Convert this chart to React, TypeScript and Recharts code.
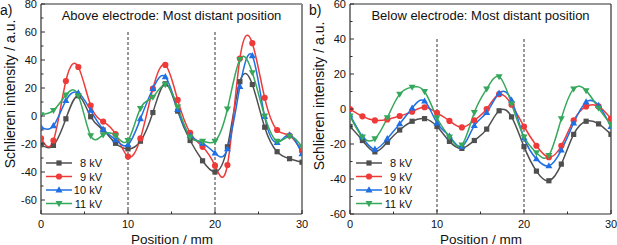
import React from "react";
import { LineChart, Line, XAxis, YAxis, ReferenceLine } from "recharts";

// Positions along the electrode (mm)
const positions = [0, 1.43, 2.86, 4.29, 5.71, 7.14, 8.57, 10, 11.43, 12.86, 14.29, 15.71, 17.14, 18.57, 20, 21.43, 22.86, 24.29, 25.71, 27.14, 28.57, 30];

// Panel a) Above electrode
const above8 = [-20.5, -21, -2, 14.5, -0.5, -10, -19.5, -23.5, -18, 2.5, 23, 3.5, -17.5, -32, -40, -22, 24.5, 22.5, -8, -25.5, -30.5, -33];
const above9 = [-16, -17.5, 25, 35, 7.5, -4, -13, -29, -16, 19.5, 36.5, 11.5, -12, -22, -35.5, -35, 41, 52, 13, -10, -14, -25];
const above10 = [-8, -7, 11, 16.5, 4, -9.5, -17, -20.5, -2, 19.5, 28, 4.5, -14, -19.5, -26.5, -23.5, 21, 43, -0.5, -19, -13.5, -27];
const above11 = [1, 4, 15, 14.5, -14, -13.5, -14, -17.5, 5.5, 13.5, 22.5, 6.5, -15, -18, -18, 5, 40.5, 31, 0, -18, -14.5, -22];

// Panel b) Below electrode
const below8 = [-10, -18, -24.5, -19, -12, -7, -5.5, -10, -18.5, -22.5, -18, -11.5, -1, -4.5, -21.5, -35.5, -41, -31.5, -14.5, -7, -8.5, -14.5];
const below9 = [0, -4.2, -6.5, -6, -4, -1.5, 1, -2.2, -6.8, -10.5, -6.5, 0, 8.5, 2.5, -10, -21, -27.5, -21, -6.5, 1.5, 1.5, -5.5];
const below10 = [-3.5, -16, -23, -17, -8.5, 0.5, 4.5, -8, -15.5, -21.5, -9.5, -2, 9, 5, -16.5, -28.5, -32.5, -23.5, -8, 4, 2, -10];
const below11 = [-4, -16, -17, -5, 8.5, 12.5, 10, -5, -16, -20.5, -2, 11.5, 18.5, 3, -16, -25, -26.5, -5.5, 11.5, 10.5, 0.5, -9];

const seriesNames = ["8 kV", "9 kV", "10 kV", "11 kV"];
const seriesColors = ["#4f4f4f", "#ef3a3a", "#1f6fe5", "#35a85c"];
const seriesMarkers = ["square", "circle", "up", "down"];

const xTicks = [0, 5, 10, 15, 20, 25, 30];
const xTickLabels = [0, 10, 20, 30];
const yTicksA = [-60, -50, -40, -30, -20, -10, 0, 10, 20, 30, 40, 50, 60, 70, 80];
const yTicksB = [-60, -50, -40, -30, -20, -10, 0, 10, 20, 30, 40, 50, 60];
const yTickLabels = [-60, -40, -20, 0, 20, 40, 60, 80];
const electrodeEdges = [10, 20];

const FONT = "'Liberation Sans', Arial, sans-serif";
const AXIS = "#2f2f2f";

const rowsA = positions.map((x, i) => ({ x, s0: above8[i], s1: above9[i], s2: above10[i], s3: above11[i] }));
const rowsB = positions.map((x, i) => ({ x, s0: below8[i], s1: below9[i], s2: below10[i], s3: below11[i] }));

function Marker({ cx, cy, kind, color }: { cx: number; cy: number; kind: string; color: string }) {
  if (cx == null || cy == null || isNaN(cx) || isNaN(cy)) return null;
  if (kind === "square") return <rect x={cx - 2.6} y={cy - 2.6} width={5.2} height={5.2} fill={color} />;
  if (kind === "circle") return <circle cx={cx} cy={cy} r={3.1} fill={color} />;
  if (kind === "up")
    return <path d={`M${cx},${cy - 3.7} L${cx + 3.5},${cy + 2.4} L${cx - 3.5},${cy + 2.4} Z`} fill={color} />;
  return <path d={`M${cx},${cy + 3.7} L${cx + 3.5},${cy - 2.4} L${cx - 3.5},${cy - 2.4} Z`} fill={color} />;
}

const YTick = (props: any) => {
  const { x, y, payload } = props;
  const v = payload.value;
  const major = yTickLabels.includes(v);
  return (
    <g>
      <line x1={x} x2={x + (major ? 4 : 2.5)} y1={y} y2={y} stroke={AXIS} strokeWidth={1} />
      {major && (
        <text x={x - 4} y={y} dy="0.36em" textAnchor="end" fontSize={11} fontFamily={FONT} fill="#111">
          {v}
        </text>
      )}
    </g>
  );
};

const XTick = (props: any) => {
  const { x, y, payload } = props;
  const v = payload.value;
  const major = xTickLabels.includes(v);
  return (
    <g>
      <line x1={x} x2={x} y1={y} y2={y - (major ? 4 : 2.5)} stroke={AXIS} strokeWidth={1} />
      {major && (
        <text x={x} y={y + 13.5} textAnchor="middle" fontSize={11} fontFamily={FONT} fill="#111">
          {v}
        </text>
      )}
    </g>
  );
};

function Panel({ rows, domain, ticks, yWidth, width, rightMargin, dashTop, rightBorder }: any) {
  return (
    <LineChart width={width} height={245} data={rows} margin={{ top: 4, right: rightMargin, bottom: 0, left: 0 }} style={{ overflow: "visible" }}>
      <XAxis
        dataKey="x"
        type="number"
        domain={[0, 30]}
        ticks={xTicks}
        interval={0}
        height={31}
        tickSize={0}
        tickMargin={0}
        tickLine={false}
        axisLine={{ stroke: AXIS, strokeWidth: 1.2 }}
        tick={<XTick />}
        allowDataOverflow
      />
      <YAxis
        type="number"
        domain={domain}
        ticks={ticks}
        interval={0}
        width={yWidth}
        tickSize={0}
        tickMargin={0}
        tickLine={false}
        axisLine={{ stroke: AXIS, strokeWidth: 1.2 }}
        tick={<YTick />}
        allowDataOverflow
      />
      <ReferenceLine y={domain[1]} stroke={AXIS} strokeWidth={1.2} />
      <ReferenceLine x={30} stroke={rightBorder.color} strokeWidth={rightBorder.width} />
      {electrodeEdges.map((e) => (
        <ReferenceLine
          key={e}
          segment={[{ x: e, y: dashTop }, { x: e, y: domain[0] }]}
          stroke="#333"
          strokeWidth={1}
          strokeDasharray="3 2"
        />
      ))}
      {seriesNames.map((name, k) => (
        <Line
          key={name}
          dataKey={`s${k}`}
          name={name}
          type="natural"
          stroke={seriesColors[k]}
          strokeWidth={1.5}
          isAnimationActive={false}
          dot={(p: any) => (
            <Marker key={`${name}-${p.index}`} cx={p.cx} cy={p.cy} kind={seriesMarkers[k]} color={seriesColors[k]} />
          )}
          activeDot={false}
        />
      ))}
    </LineChart>
  );
}

function LegendBlock({ x0, textEnd, rowsY }: { x0: number; textEnd: number; rowsY: number[] }) {
  return (
    <g>
      {seriesNames.map((name, k) => (
        <g key={name}>
          <line x1={x0} x2={x0 + 26} y1={rowsY[k]} y2={rowsY[k]} stroke={seriesColors[k]} strokeWidth={1.5} />
          <Marker cx={x0 + 13} cy={rowsY[k]} kind={seriesMarkers[k]} color={seriesColors[k]} />
          <text x={textEnd} y={rowsY[k] + 4} textAnchor="end" fontSize={11} fontFamily={FONT} fill="#111">
            {name}
          </text>
        </g>
      ))}
    </g>
  );
}

export default function App() {
  const legendRows = [163, 176.5, 190, 203.5];
  return (
    <div style={{ position: "absolute", left: 0, top: 0, width: 617, height: 245, background: "#fff", overflow: "hidden" }}>
      <div style={{ position: "absolute", left: 0, top: 0 }}>
        <Panel rows={rowsA} domain={[-70, 80]} ticks={yTicksA} yWidth={41} width={314} rightMargin={12} dashTop={60} rightBorder={{ color: "#8a8a8a", width: 2 }} />
      </div>
      <div style={{ position: "absolute", left: 305, top: 0 }}>
        <Panel rows={rowsB} domain={[-60, 60]} ticks={yTicksB} yWidth={45} width={312} rightMargin={6} dashTop={40} rightBorder={{ color: AXIS, width: 1.2 }} />
      </div>
      <svg width={617} height={245} style={{ position: "absolute", left: 0, top: 0, pointerEvents: "none" }}>
        <text x={0} y={14.5} fontSize={14} fontFamily={FONT} fill="#111">a)</text>
        <text x={309} y={14.5} fontSize={14} fontFamily={FONT} fill="#111">b)</text>
        <text x={171.5} y={19.5} textAnchor="middle" fontSize={13} fontFamily={FONT} fill="#111">
          Above electrode: Most distant position
        </text>
        <text x={480.5} y={19.5} textAnchor="middle" fontSize={13} fontFamily={FONT} fill="#111">
          Below electrode: Most distant position
        </text>
        <text transform="translate(14.5,94) rotate(-90)" textAnchor="middle" fontSize={14} fontFamily={FONT} fill="#111">
          Schlieren intensity / a.u.
        </text>
        <text transform="translate(324,96) rotate(-90)" textAnchor="middle" fontSize={14} fontFamily={FONT} fill="#111">
          Schlieren intensity / a.u.
        </text>
        <text x={172} y={244} textAnchor="middle" fontSize={13.5} fontFamily={FONT} fill="#111">Position / mm</text>
        <text x={481} y={244} textAnchor="middle" fontSize={13.5} fontFamily={FONT} fill="#111">Position / mm</text>
        <LegendBlock x0={46} textEnd={102} rowsY={legendRows} />
        <LegendBlock x0={356} textEnd={412} rowsY={legendRows} />
      </svg>
    </div>
  );
}
